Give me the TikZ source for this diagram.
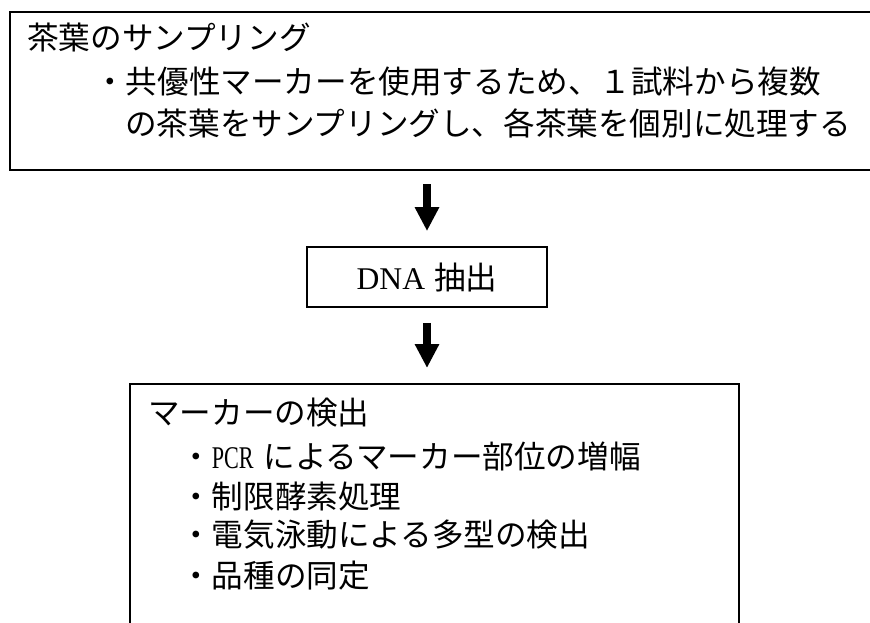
\documentclass[tikz,border=0pt]{standalone}
\usepackage{graphicx}
\usepackage{fontspec}
\setmainfont{Liberation Serif}
\newfontfamily\jp{Noto Sans CJK JP}
\usetikzlibrary{arrows.meta}
\begin{document}
\begin{tikzpicture}[x=1pt,y=-1pt,
  boxline/.style={line width=1.8pt},
  txt/.style={anchor=base west, inner sep=0pt, font=\jp\fontsize{31.6pt}{38pt}\selectfont},
  flow/.style={line width=8.5pt, -{Triangle[width=23pt,length=24pt]}}]
\useasboundingbox (0,0) rectangle (870,623);
\fill[white] (0,0) rectangle (870,623);
% top box (open to the right)
\draw[boxline] (872,12) -- (10,12) -- (10,170) -- (872,170);
\coordinate (topS) at (427,170);
% bottom box (open at the bottom)
\draw[boxline] (130,625) -- (130,384) -- (739,384) -- (739,625);
\coordinate (botN) at (427,384);
% DNA box
\node[draw, boxline, minimum width=240pt, minimum height=60pt, inner sep=0pt,
  font=\jp\fontsize{31.6pt}{38pt}\selectfont] (dna) at (427,277) {{\rmfamily DNA}\hspace{9pt}抽出};
% arrows
\draw[flow, shorten <=14pt, shorten >=15pt] (topS) -- (dna.north);
\draw[flow, shorten <=15pt, shorten >=16pt] (dna.south) -- (botN);
% texts top
\node[txt] (t1) at (27,49.5) {茶葉のサンプリング};
\node[txt] (t2) at (94,93.5) {・共優性マーカーを使用するため、１試料から複数};
\node[txt] (t3) at (125,135.5) {の茶葉をサンプリングし、各茶葉を個別に処理する};
% texts bottom
\node[txt] (b1) at (148,424.5) {マーカーの検出};
\node[txt] (b2) at (180,468) {・{\rmfamily\scalebox{0.7}[1]{PCR}}\hspace{10pt}によるマーカー部位の増幅};
\node[txt] (b3) at (180,508) {・制限酵素処理};
\node[txt] (b4) at (180,546) {・電気泳動による多型の検出};
\node[txt] (b5) at (180,587) {・品種の同定};
\end{tikzpicture}
\end{document}
